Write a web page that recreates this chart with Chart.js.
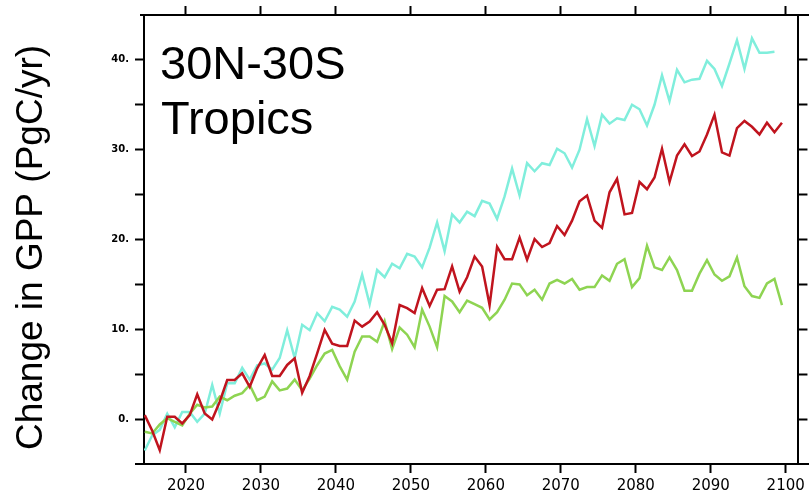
<!DOCTYPE html>
<html>
<head>
<meta charset="utf-8">
<script src="https://cdn.jsdelivr.net/npm/chart.js@4/dist/chart.umd.min.js"></script>
<style>
  html, body { margin: 0; padding: 0; background: #ffffff; }
  #wrap { width: 809px; height: 495px; position: relative; }
</style>
</head>
<body>
<div id="wrap"><canvas id="gpp" width="809" height="495"></canvas></div>
<script>
// Annual change in tropical GPP (PgC/yr), one value per model year 2015-2100.
const years = Array.from({ length: 86 }, (_, i) => 2015 + i);

const runRed = [
  0.45, -1.3, -3.46, 0.26, 0.26, -0.48, 0.45, 2.75, 0.63, -0.04,
  1.93, 4.35, 4.35, 5.1, 3.6, 5.65, 7.14, 4.8, 4.8, 6.03,
  6.77, 2.94, 4.8, 7.33, 9.93, 8.4, 8.15, 8.15, 10.97, 10.3,
  10.86, 11.9, 10.5, 8.45, 12.7, 12.35, 11.8, 14.6, 12.6, 14.4,
  14.47, 17.0, 14.2, 15.8, 18.1, 17.0, 12.7, 19.2, 17.8, 17.8,
  20.2, 17.75, 20.05, 19.16, 19.6, 21.5, 20.5, 22.1, 24.25, 24.9,
  22.1, 21.3, 25.26, 26.75, 22.8, 22.95, 26.4, 25.6, 26.9, 30.1,
  26.4, 29.35, 30.6, 29.3, 29.8, 31.7, 33.9, 29.7, 29.35, 32.4,
  33.2, 32.55, 31.7, 33.0, 31.95, 33.0
];

// This run stops one year short (2015-2099).
const runCyan = [
  -3.5, -1.8, -1.2, 0.6, -0.9, 0.8, 0.8, -0.3, 0.6, 3.8,
  0.6, 4.0, 4.0, 5.7, 4.4, 6.0, 6.2, 5.5, 6.8, 9.9,
  6.8, 10.5, 9.9, 11.8, 10.9, 12.5, 12.2, 11.4, 13.1, 16.1,
  12.8, 16.6, 15.8, 17.3, 16.8, 18.4, 18.1, 16.9, 19.1, 21.9,
  18.7, 22.8, 21.9, 23.1, 22.6, 24.3, 24.0, 22.3, 24.8, 27.9,
  24.9, 28.5, 27.6, 28.5, 28.3, 30.1, 29.6, 28.0, 30.0, 33.4,
  30.4, 33.9, 32.9, 33.5, 33.3, 35.0, 34.5, 32.7, 35.0, 38.3,
  35.4, 38.9, 37.5, 37.8, 37.9, 39.9, 39.0, 37.1, 39.6, 42.2,
  39.0, 42.4, 40.8, 40.8, 40.9
];

const runGreen = [
  -1.4, -1.6, -0.6, 0.1, -0.3, -0.7, 0.6, 1.6, 1.3, 1.4,
  2.5, 2.1, 2.6, 2.9, 3.8, 2.1, 2.5, 4.2, 3.2, 3.4,
  4.4, 3.2, 4.5, 6.0, 7.3, 7.7, 5.9, 4.4, 7.5, 9.2,
  9.2, 8.6, 10.9, 7.8, 10.2, 9.4, 8.0, 12.2, 10.3, 8.0,
  13.7, 13.1, 11.9, 13.2, 12.8, 12.4, 11.1, 11.9, 13.3, 15.1,
  15.0, 13.8, 14.4, 13.3, 15.1, 15.5, 15.1, 15.6, 14.4, 14.7,
  14.7, 16.0, 15.4, 17.3, 17.8, 14.7, 15.7, 19.3, 16.9, 16.6,
  18.0, 16.6, 14.3, 14.3, 16.2, 17.7, 16.1, 15.4, 15.9, 18.0,
  14.8, 13.7, 13.5, 15.1, 15.6, 12.7
];

const xTickValues = [2020, 2030, 2040, 2050, 2060, 2070, 2080, 2090, 2100];
const yTickValues = [0, 5, 10, 15, 20, 25, 30, 35, 40];
const yLabelled = [0, 10, 20, 30, 40];
const regionLines = ['30N-30S', 'Tropics'];
const yAxisTitle = 'Change in GPP (PgC/yr)';

// Annual means sit at the middle of the year they close.
const toPoints = (vals) => vals.map((v, i) => ({ x: years[i] - 0.5, y: v }));

const X_MIN = 2014.4, X_MAX = 2101.7, Y_MIN = -5, Y_MAX = 45;

const tickGrid = { drawOnChartArea: false, drawTicks: true, tickLength: 9, tickWidth: 2, tickColor: '#000' };
const frame = { display: true, color: '#000', width: 2 };

const setTicks = (values) => (scale) => { scale.ticks = values.map((v) => ({ value: v })); };

const panelText = {
  id: 'panelText',
  afterDraw(chart) {
    const { ctx, chartArea, width } = chart;
    ctx.save();
    // horizontal axis lines run past the frame
    ctx.strokeStyle = '#000';
    ctx.lineWidth = 2;
    ctx.beginPath();
    ctx.moveTo(chartArea.left - 9, chartArea.bottom);
    ctx.lineTo(width, chartArea.bottom);
    ctx.moveTo(chartArea.left - 4, chartArea.top);
    ctx.lineTo(width, chartArea.top);
    ctx.stroke();

    ctx.fillStyle = '#000';
    ctx.textAlign = 'left';
    ctx.textBaseline = 'alphabetic';
    ctx.font = '47px "Liberation Sans", Arial, sans-serif';
    ctx.fillText(regionLines[0], chartArea.left + 16, chartArea.top + 64);
    ctx.fillText(regionLines[1], chartArea.left + 17, chartArea.top + 119);

    ctx.translate(42, (chartArea.top + chartArea.bottom) / 2 + 8);
    ctx.rotate(-Math.PI / 2);
    ctx.textAlign = 'center';
    ctx.font = '37px "Liberation Sans", Arial, sans-serif';
    ctx.fillText(yAxisTitle, 0, 0);
    ctx.restore();
  }
};

const lineStyle = { borderWidth: 2.5, pointRadius: 0, tension: 0, fill: false };

new Chart(document.getElementById('gpp'), {
  type: 'line',
  data: {
    datasets: [
      { label: 'Run 1', data: toPoints(runRed), borderColor: '#C0141E', ...lineStyle },
      { label: 'Run 2', data: toPoints(runGreen), borderColor: '#8ED452', ...lineStyle },
      { label: 'Run 3', data: toPoints(runCyan), borderColor: '#80EEDC', ...lineStyle }
    ]
  },
  options: {
    responsive: false,
    animation: false,
    devicePixelRatio: 1,
    layout: { padding: 0 },
    plugins: { legend: { display: false }, tooltip: { enabled: false } },
    scales: {
      x: {
        type: 'linear', position: 'bottom', min: X_MIN, max: X_MAX,
        afterBuildTicks: setTicks(xTickValues),
        afterFit: (s) => { s.height = 31; },
        grid: tickGrid, border: frame,
        ticks: {
          color: '#000', padding: 4, maxRotation: 0, autoSkip: false,
          font: { family: '"DejaVu Sans", sans-serif', size: 15 },
          callback: (v) => String(v)
        }
      },
      xTop: {
        type: 'linear', position: 'top', min: X_MIN, max: X_MAX,
        afterBuildTicks: setTicks(xTickValues),
        afterFit: (s) => { s.height = 15; },
        grid: tickGrid, border: frame,
        ticks: { display: false }
      },
      y: {
        type: 'linear', position: 'left', min: Y_MIN, max: Y_MAX,
        afterBuildTicks: setTicks(yTickValues),
        afterFit: (s) => { s.width = 144; },
        grid: tickGrid, border: frame,
        ticks: {
          color: '#000', padding: 6, autoSkip: false,
          font: { family: '"DejaVu Sans", sans-serif', size: 10, weight: 'bold' },
          callback: (v) => (yLabelled.includes(v) ? v + '.' : '')
        }
      },
      yRight: {
        type: 'linear', position: 'right', min: Y_MIN, max: Y_MAX,
        afterBuildTicks: setTicks(yTickValues),
        afterFit: (s) => { s.width = 10; },
        grid: tickGrid, border: frame,
        ticks: { display: false }
      }
    }
  },
  plugins: [panelText]
});
</script>
</body>
</html>
